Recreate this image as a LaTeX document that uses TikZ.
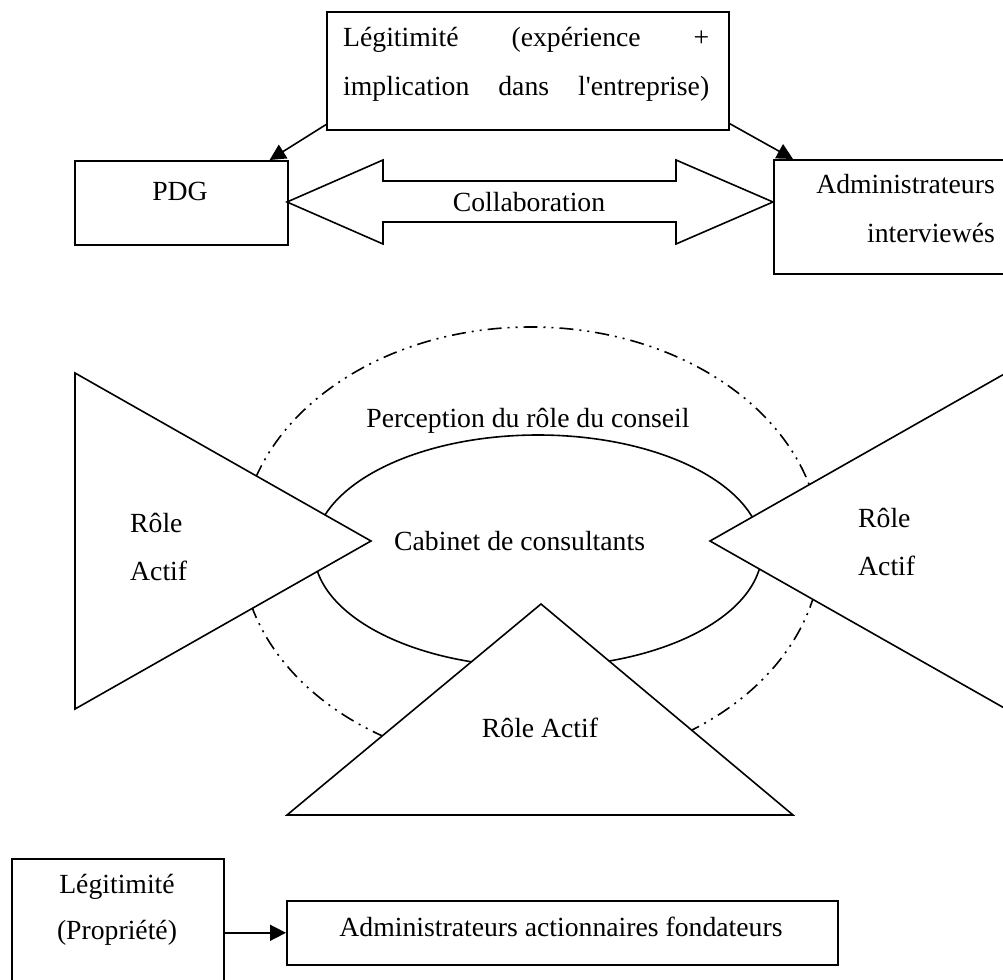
\documentclass[tikz,border=0pt]{standalone}
\usepackage{fontspec}
\setmainfont{Liberation Serif}
\usetikzlibrary{arrows.meta}
\begin{document}
\begin{tikzpicture}[x=1pt,y=-1pt,
  lw/.style={line width=1.6pt},
  box/.style={draw, line width=1.6pt, fill=white, inner sep=0pt, anchor=north west},
  lbl/.style={inner sep=0pt, font=\fontsize{27.7}{33}\selectfont},
  conn/.style={line width=1.6pt, -{Triangle[length=16pt,width=16pt]}},
  dashdotdot/.style={line width=1.6pt, dash pattern=on 14pt off 6pt on 2pt off 6pt on 2pt off 6pt}]
\useasboundingbox (0,0) rectangle (1003,979);
\clip (0,0) rectangle (1003,979);

% perception ellipses
\draw[dashdotdot] (531,547) ellipse [x radius=290pt, y radius=220pt];
\draw[lw] (538,551) ellipse [x radius=224pt, y radius=116pt];
\node[lbl, anchor=base] (perc) at (528,427) {Perception du rôle du conseil};
\node[lbl, anchor=base west] (cab) at (394,550) {Cabinet de consultants};

% triangles
\draw[lw, fill=white] (75,373) -- (371,541) -- (75,709) -- cycle;
\draw[lw, fill=white] (1006,373) -- (710,541) -- (1006,709) -- cycle;
\draw[lw, fill=white] (287,815) -- (541,604) -- (793,815) -- cycle;
\node[lbl, anchor=base west] (rl1) at (130,532) {Rôle};
\node[lbl, anchor=base west] (rl2) at (130,580) {Actif};
\node[lbl, anchor=base west] (rr1) at (858,527) {Rôle};
\node[lbl, anchor=base west] (rr2) at (858,575) {Actif};
\node[lbl, anchor=base] (rb) at (540,737) {Rôle Actif};

% top part
\node[box, minimum width=402pt, minimum height=118pt] (legit) at (326,11) {};
\node[lbl, anchor=base west] (lt1) at (343,47) {\hbox to 366pt{Légitimité\hfill(expérience\hfill+}};
\node[lbl, anchor=base west] (lt2) at (343,96) {\hbox to 366pt{implication\hfill dans\hfill l\textquotesingle entreprise)}};

\node[box, minimum width=213pt, minimum height=84pt] (pdg) at (74,160) {};
\node[lbl, anchor=base] (pdgt) at (180,200) {PDG};

\node[box, minimum width=260pt, minimum height=114pt] (adm) at (773,159) {};
\node[lbl, anchor=base east] (adm1) at (995,193) {Administrateurs};
\node[lbl, anchor=base east] (adm2) at (995,242) {interviewés};

\draw[conn] ([yshift=6pt]legit.south west) -- ([xshift=-19pt]pdg.north east);
\draw[conn] ([yshift=7pt]legit.south east) -- ([xshift=20pt]adm.north west);

% collaboration double arrow
\draw[lw, fill=white] (287,202) -- (383,160) -- (383,181) -- (676,181) -- (676,160)
  -- (773,202) -- (676,244) -- (676,222) -- (383,222) -- (383,244) -- cycle;
\node[lbl, anchor=base] (collab) at (529,211) {Collaboration};

% bottom part
\node[box, minimum width=212pt, minimum height=140pt] (prop) at (11,858) {};
\node[lbl, anchor=base] (prop1) at (117,893) {Légitimité};
\node[lbl, anchor=base] (prop2) at (117,939) {(Propriété)};

\node[box, minimum width=551pt, minimum height=64pt] (fond) at (286,900) {};
\node[lbl, anchor=base] (fondt) at (561,936) {Administrateurs actionnaires fondateurs};

\draw[conn] (prop.east |- fond.west) -- (fond.west);
\end{tikzpicture}
\end{document}
